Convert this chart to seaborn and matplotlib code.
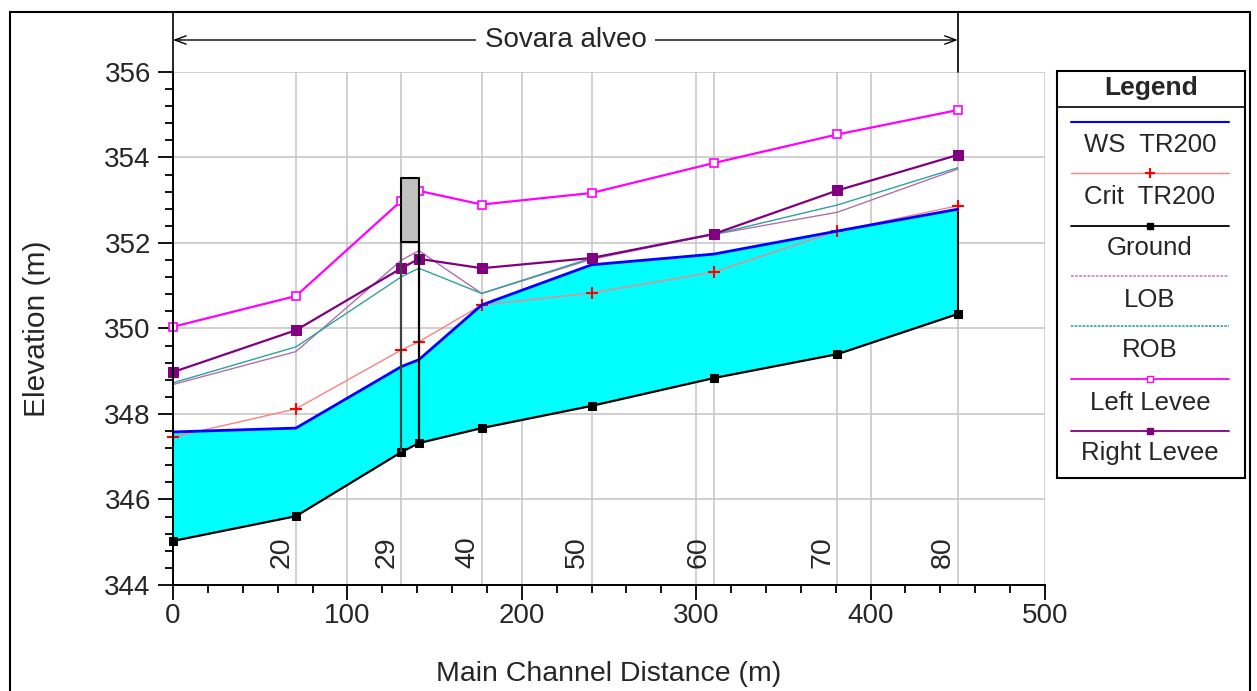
import numpy as np
import pandas as pd
import matplotlib
matplotlib.use("Agg")
import matplotlib.pyplot as plt
import matplotlib.transforms as mtransforms
from matplotlib.lines import Line2D
from matplotlib.patches import Rectangle
import seaborn as sns

# ---------------- data ----------------
stations_x = [0, 70.5, 131, 141, 177, 240, 310, 381, 450]
ground = [345.03, 345.61, 347.11, 347.32, 347.67, 348.19, 348.84, 349.40, 350.34]
ws_tr200 = [347.58, 347.67, 349.11, 349.27, 350.55, 351.49, 351.74, 352.28, 352.79]
crit_tr200 = [347.46, 348.12, 349.50, 349.69, 350.55, 350.83, 351.32, 352.28, 352.87]
lob = [348.69, 349.46, 351.60, 351.82, 350.82, 351.62, 352.20, 352.72, 353.73]
rob = [348.73, 349.57, 351.21, 351.41, 350.82, 351.65, 352.20, 352.89, 353.76]
left_levee = [350.04, 350.76, 352.99, 353.22, 352.90, 353.17, 353.87, 354.54, 355.11]
right_levee = [348.98, 349.96, 351.41, 351.63, 351.41, 351.65, 352.21, 353.23, 354.06]

label_x = [70.5, 131, 177, 240, 310, 381, 450]
label_text = ["20", "29", "40", "50", "60", "70", "80"]

bridge_x = [131, 141]
bridge_low = 352.02
bridge_high = 353.52

reach_x = [0, 450]
reach_name = "Sovara alveo"

legend_names = ["WS  TR200", "Crit  TR200", "Ground", "LOB", "ROB", "Left Levee", "Right Levee"]

# ---------------- style ----------------
sns.set_style("white")
plt.rcParams["font.family"] = ["Liberation Sans", "DejaVu Sans"]

fig = plt.figure(figsize=(12.57, 6.91), dpi=100)
W, H = 1257.0, 691.0
ax = fig.add_axes([173 / W, 1 - 585 / H, (1045 - 173) / W, (585 - 72) / H])

grid_c = "#C8C8C8"
ax.set_xlim(0, 500)
ax.set_ylim(344, 356)
ax.set_xticks(np.arange(0, 501, 100))
ax.set_xticks(np.arange(0, 501, 20), minor=True)
ax.set_yticks(np.arange(344, 356.1, 2))
ax.set_yticks(np.arange(344, 356.1, 0.4), minor=True)
ax.grid(True, which="major", color=grid_c, lw=1.2)
ax.set_axisbelow(True)
for xs in label_x:
    ax.axvline(xs, color=grid_c, lw=1.2, zorder=0.5)

# water fill
ax.fill_between(stations_x, ground, ws_tr200, color="#00FFFF", lw=0, zorder=1)
ax.vlines(stations_x[-1], ground[-1], ws_tr200[-1], color="black", lw=1.5, zorder=3)

# bridge
ax.vlines(bridge_x[0], ground[2], bridge_low, color="#404040", lw=1.6, zorder=6)
ax.vlines(bridge_x[1], ground[3], bridge_low, color="black", lw=1.6, zorder=6)
ax.fill_between(bridge_x, bridge_low, bridge_high, facecolor="#C0C0C0",
                edgecolor="black", lw=1.5, zorder=6)

# series
common = dict(ax=ax, estimator=None, sort=False, clip_on=False)
sns.lineplot(x=stations_x, y=lob, color="#B070B0", lw=1.0, zorder=3, **common)
sns.lineplot(x=stations_x, y=rob, color="#30A0A0", lw=1.0, zorder=3, **common)
sns.lineplot(x=stations_x, y=crit_tr200, color="#FF8080", lw=1.0, zorder=4,
             marker="+", markersize=8, markeredgecolor="red", markeredgewidth=1.5, **common)
sns.lineplot(x=stations_x, y=ws_tr200, color="#0000FF", lw=2.0, zorder=4, **common)
sns.lineplot(x=stations_x, y=ground, color="black", lw=1.6, zorder=5, marker="s",
             markersize=6, markeredgecolor="black", markerfacecolor="black", **common)
sns.lineplot(x=stations_x, y=left_levee, color="#FF00FF", lw=1.6, zorder=5, marker="s",
             markersize=6, markeredgecolor="#FF00FF", markerfacecolor="white",
             markeredgewidth=1.2, **common)
sns.lineplot(x=stations_x, y=right_levee, color="#800080", lw=1.6, zorder=5, marker="s",
             markersize=7, markeredgecolor="#800080", markerfacecolor="#800080", **common)

# station labels
for xs, t in zip(label_x, label_text):
    ax.text(xs - 1, 344.40, t, rotation=90, ha="right", va="bottom", fontsize=20.5, zorder=7)

# axes styling
for s in ["top", "right"]:
    ax.spines[s].set_visible(False)
for s in ["left", "bottom"]:
    ax.spines[s].set_color("black")
    ax.spines[s].set_linewidth(1.4)
    ax.spines[s].set_zorder(8)
ax.tick_params(which="major", direction="out", length=11, width=1.3, color="black",
               labelsize=20, pad=2, left=True, bottom=True)
ax.tick_params(which="minor", direction="out", length=6, width=1.3, color="black",
               left=True, bottom=True)
ax.tick_params(axis="y", which="major", pad=5)
ax.set_xlabel("Main Channel Distance (m)", fontsize=20.5)
ax.set_ylabel("Elevation (m)", fontsize=21.5)
ax.xaxis.set_label_coords(0.5, -0.148)
ax.yaxis.set_label_coords(-0.14, 0.5)

# reach annotation above plot
trans = mtransforms.blended_transform_factory(ax.transData, ax.transAxes)
top_y = 1 + (72 - 12) / 513.0
arr_y = 1 + (72 - 40) / 513.0
for xr in reach_x:
    ax.plot([xr, xr], [1.0, top_y], color="black", lw=1.2, transform=trans, clip_on=False)
ax.annotate("", xy=(reach_x[0], arr_y), xytext=(reach_x[1], arr_y),
            xycoords=trans, textcoords=trans, annotation_clip=False,
            arrowprops=dict(arrowstyle="<->,head_length=0.8,head_width=0.3",
                            color="black", lw=1.0, shrinkA=0, shrinkB=0))
ax.text(np.mean(reach_x), arr_y, reach_name, transform=trans, ha="center", va="center",
        fontsize=20, bbox=dict(facecolor="white", edgecolor="none", pad=6), zorder=9)

# figure frame
fig.add_artist(Rectangle((10 / W, -0.02), (1250 - 10) / W, 1 - 12 / H + 0.02,
                         transform=fig.transFigure, fill=False, edgecolor="black", lw=1.5))

# custom legend box
def fx(px):
    return px / W

def fy(py):
    return 1 - py / H

lx0, lx1, ly0, ly1 = 1057, 1245, 71, 478
fig.add_artist(Rectangle((fx(lx0), fy(ly1)), fx(lx1) - fx(lx0), fy(ly0) - fy(ly1),
                         transform=fig.transFigure, fill=False, edgecolor="black", lw=1.5))
fig.add_artist(Line2D([fx(lx0), fx(lx1)], [fy(107), fy(107)], transform=fig.transFigure,
                      color="black", lw=1.2))
fig.text(fx((lx0 + lx1) / 2), fy(88), "Legend", ha="center", va="center", fontsize=19,
         fontweight="bold")

leg_styles = [
    dict(color="#0000FF", lw=1.5),
    dict(color="#FF8080", lw=1.0, marker="+", markersize=7, markeredgecolor="red", markeredgewidth=1.5),
    dict(color="black", lw=1.3, marker="s", markersize=5, markerfacecolor="black", markeredgecolor="black"),
    dict(color="#C890C8", lw=1.3, linestyle=(0, (1.5, 0.8))),
    dict(color="#30A0A0", lw=1.2, linestyle=(0, (1.5, 0.8))),
    dict(color="#FF00FF", lw=1.3, marker="s", markersize=5, markerfacecolor="white", markeredgecolor="#FF00FF"),
    dict(color="#800080", lw=1.3, marker="s", markersize=5, markerfacecolor="#800080", markeredgecolor="#800080"),
]
line_y = [122, 173, 226, 276, 326, 379, 431]
text_y = [145, 197, 248, 300, 350, 403, 453]
for name, st, ly, ty in zip(legend_names, leg_styles, line_y, text_y):
    fig.add_artist(Line2D([fx(1071), fx(1229)], [fy(ly), fy(ly)], transform=fig.transFigure,
                          **{k: v for k, v in st.items() if not k.startswith("marker")}))
    if "marker" in st:
        fig.add_artist(Line2D([fx(1150)], [fy(ly)], transform=fig.transFigure, lw=0,
                              **{k: v for k, v in st.items() if k.startswith("marker")}))
    fig.text(fx(1150), fy(ty), name, ha="center", va="center", fontsize=18.5)

fig.savefig("out.png", dpi=100)
